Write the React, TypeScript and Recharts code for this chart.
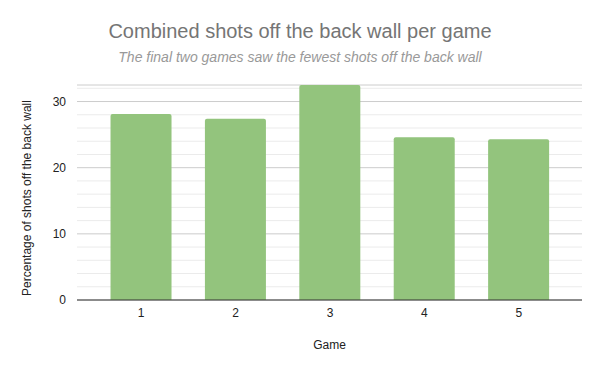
import React from 'react';
import { BarChart, Bar, XAxis, YAxis, CartesianGrid, Label, ReferenceLine } from 'recharts';

const games = ['1', '2', '3', '4', '5'];
const shotsPct = [28.1, 27.4, 32.5, 24.6, 24.3];
const majorTicks = [0, 10, 20, 30];
const minorTicks = [2, 4, 6, 8, 12, 14, 16, 18, 22, 24, 26, 28, 32];

const data = games.map((g, i) => ({ game: g, value: shotsPct[i] }));

const FONT = 'Arial, "Liberation Sans", sans-serif';

export default function App() {
  return (
    <div style={{ position: 'absolute', left: 0, top: 0, width: 600, height: 371, background: '#fff', fontFamily: FONT }}>
      <div style={{ position: 'absolute', left: 0, top: 19, width: 600, textAlign: 'center', fontSize: 20, color: '#757575', lineHeight: '24px' }}>
        Combined shots off the back wall per game
      </div>
      <div style={{ position: 'absolute', left: 0, top: 48, width: 600, textAlign: 'center', fontSize: 14, fontStyle: 'italic', color: '#999999', lineHeight: '18px' }}>
        The final two games saw the fewest shots off the back wall
      </div>
      <BarChart
        width={600}
        height={371}
        data={data}
        margin={{ top: 85, right: 18, bottom: 0, left: 0 }}
        barCategoryGap="17.5%"
      >
        <CartesianGrid vertical={false} stroke="#cccccc" />
        {minorTicks.map((v) => (
          <ReferenceLine key={v} y={v} stroke="#ebebeb" strokeWidth={1} zIndex={-50} />
        ))}
        <YAxis
          width={77}
          domain={[0, 32.5]}
          ticks={majorTicks}
          axisLine={false}
          tickLine={false}
          tick={{ fill: '#222', fontSize: 12, fontFamily: FONT }}
          tickMargin={5}
        >
          <Label
            content={() => {
              const cx = 27;
              const cy = 198;
              return (
                <text
                  x={cx}
                  y={cy}
                  transform={`rotate(-90 ${cx} ${cy})`}
                  textAnchor="middle"
                  dominantBaseline="central"
                  fill="#222"
                  fontSize={12}
                  fontFamily={FONT}
                >
                  Percentage of shots off the back wall
                </text>
              );
            }}
          />
        </YAxis>
        <XAxis
          dataKey="game"
          height={71}
          padding={{ left: 17, right: 16 }}
          axisLine={{ stroke: '#333333' }}
          tickLine={false}
          tick={{ fill: '#222', fontSize: 12, fontFamily: FONT }}
          tickMargin={2}
        >
          <Label value="Game" position="insideBottom" offset={22} fill="#222" fontSize={12} fontFamily={FONT} />
        </XAxis>
        <Bar dataKey="value" fill="#93c47d" radius={[2, 2, 0, 0]} isAnimationActive={false} />
      </BarChart>
    </div>
  );
}
